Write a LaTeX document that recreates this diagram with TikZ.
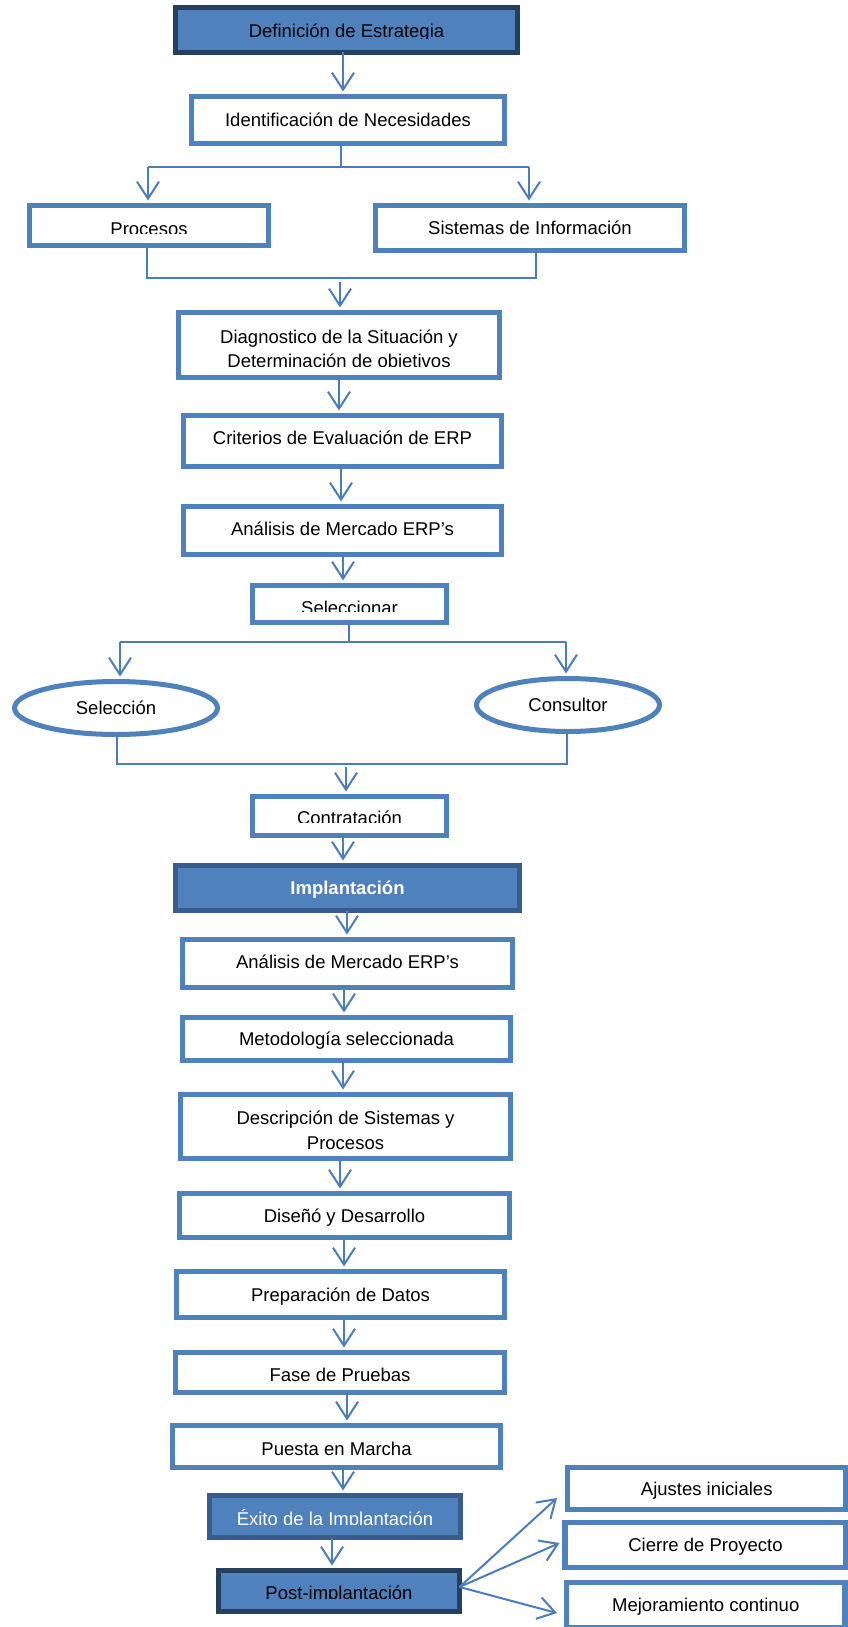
\documentclass[tikz,border=0pt]{standalone}
\usepackage{fontspec}
\setmainfont{Liberation Sans}
\usetikzlibrary{arrows.meta,shapes.geometric,calc}
\definecolor{bblue}{HTML}{4F81BD}
\definecolor{lblue}{HTML}{4A7EBB}
\definecolor{dnavy}{HTML}{253F5F}
\definecolor{mnavy}{HTML}{385D8A}
\newcommand\dfont{\fontsize{18.5}{24.5}\selectfont}
\begin{document}
\begin{tikzpicture}[x=1pt,y=-1pt,
  box/.style={draw=bblue, line width=5.5pt, fill=white, inner sep=0pt, outer sep=0pt, font=\dfont, align=center, text height=13.3pt, text depth=0pt},
  boxtwo/.style={draw=bblue, line width=5.5pt, fill=white, inner sep=0pt, outer sep=0pt, font=\dfont, align=center},
  darkbox/.style={box, fill=bblue, draw=dnavy},
  midbox/.style={box, fill=bblue, draw=mnavy},
  oval/.style={ellipse, draw=bblue, line width=5pt, fill=white, inner sep=0pt, outer sep=0pt, font=\dfont, text height=13.3pt, text depth=0pt},
  link/.style={draw=lblue, line width=2pt},
  arr/.style={link, -{Straight Barb[length=17pt,width=22pt]}, shorten >=5pt},
  maskw/.style={fill=white},
  maskb/.style={fill=bblue},
]
\useasboundingbox (0,0) rectangle (848,1627);

% ---- nodes ----
\node[darkbox, minimum width=342pt, minimum height=45pt, text height=15.3pt] (def) at (346.5,30) {Definición de Estrategia};
\node[box, minimum width=313pt, minimum height=47pt] (iden) at (348,120) {Identificación de Necesidades};
\node[box, minimum width=239pt, minimum height=40pt, text height=19pt] (proc) at (149,225.5) {Procesos};
\node[box, minimum width=309pt, minimum height=45pt] (sis) at (530,228) {Sistemas de Información};
\node[boxtwo, minimum width=321pt, minimum height=65pt] (diag) at (339,345) {\rule{0pt}{25pt}Diagnostico de la Situación y\\Determinación de objetivos};
\node[box, minimum width=318pt, minimum height=51pt, text height=7.3pt] (crit) at (342.5,441) {Criterios de Evaluación de ERP};
\node[box, minimum width=318pt, minimum height=48pt, text height=9.3pt] (ana1) at (342.5,530.5) {Análisis de Mercado ERP’s};
\node[box, minimum width=194pt, minimum height=37pt, text height=21pt] (selr) at (349.5,604) {Seleccionar};
\node[oval, minimum width=203pt, minimum height=53pt] (sel) at (116,708) {Selección};
\node[oval, minimum width=183pt, minimum height=53pt] (cons) at (568,705) {Consultor};
\node[box, minimum width=194pt, minimum height=39pt, text height=17pt] (cont) at (349.5,816) {Contratación};
\node[midbox, minimum width=344pt, minimum height=45pt, text=white, font=\dfont\bfseries] (impl) at (347.5,888) {Implantación};
\node[box, minimum width=330pt, minimum height=48pt, text height=9.3pt] (ana2) at (347.5,963.5) {Análisis de Mercado ERP’s};
\node[box, minimum width=328pt, minimum height=43pt] (met) at (346.5,1039) {Metodología seleccionada};
\node[boxtwo, minimum width=330pt, minimum height=64pt] (desc) at (345.5,1126.5) {\rule{0pt}{21pt}Descripción de Sistemas y\\Procesos};
\node[box, minimum width=330pt, minimum height=44pt] (dis) at (344.5,1215.5) {Diseñó y Desarrollo};
\node[box, minimum width=328pt, minimum height=46pt] (prep) at (340.5,1294.5) {Preparación de Datos};
\node[box, minimum width=329pt, minimum height=40pt, text height=17.3pt] (fase) at (340,1372.5) {Fase de Pruebas};
\node[box, minimum width=328pt, minimum height=42pt, text height=17.3pt] (pue) at (336.5,1446.5) {Puesta en Marcha};
\node[midbox, minimum width=251pt, minimum height=42pt, text=white, text height=18pt] (exi) at (335,1516.5) {Éxito de la Implantación};
\node[darkbox, minimum width=241pt, minimum height=41pt, text height=17.3pt] (post) at (339,1591) {Post-implantación};
\node[box, minimum width=278.5pt, minimum height=42pt] (aju) at (706.75,1488.5) {Ajustes iniciales};
\node[box, minimum width=281pt, minimum height=45pt] (cie) at (705.5,1545) {Cierre de Proyecto};
\node[box, minimum width=278.5pt, minimum height=45pt] (mej) at (705.75,1605) {Mejoramiento continuo};

% ---- clipped text bottoms ----
\fill[maskb] ($(def.south west)+(2.75,-13.5)$) rectangle ($(def.south east)+(-2.75,-2.75)$);
\fill[maskw] ($(proc.south west)+(2.75,-11.5)$) rectangle ($(proc.south east)+(-2.75,-2.75)$);
\fill[maskw] ($(diag.south west)+(2.75,-11)$) rectangle ($(diag.south east)+(-2.75,-2.75)$);
\fill[maskw] ($(selr.south west)+(2.75,-11)$) rectangle ($(selr.south east)+(-2.75,-2.75)$);
\fill[maskw] ($(cont.south west)+(2.75,-13)$) rectangle ($(cont.south east)+(-2.75,-2.75)$);
\fill[maskb] ($(exi.south west)+(2.75,-12.5)$) rectangle ($(exi.south east)+(-2.75,-2.75)$);
\fill[maskb] ($(post.south west)+(2.75,-12.5)$) rectangle ($(post.south east)+(-2.75,-2.75)$);

% ---- junction coordinates ----
\coordinate (b1) at (341,167);
\coordinate (b1l) at (148,167);
\coordinate (b1r) at (529,167);
\coordinate (m1l) at (147,278);
\coordinate (m1r) at (536,278);
\coordinate (m1) at (340,278);
\coordinate (s1) at (349,642);
\coordinate (s1l) at (120,642);
\coordinate (s1r) at (566,642);
\coordinate (m2l) at (117,764);
\coordinate (m2r) at (567,764);
\coordinate (m2) at (346,764);

% ---- connectors ----
\draw[arr] (def.south -| 343,0) -- (iden.north -| 343,0);
\draw[link] (iden.south -| b1) -- (b1);
\draw[link] (b1l) -- (b1r);
\draw[arr] (b1l) -- (proc.north -| b1l);
\draw[arr] (b1r) -- (sis.north -| b1r);
\draw[link] (proc.south -| m1l) -- (m1l) -- (m1r) -- (sis.south -| m1r);
\draw[arr, shorten <=4pt] (m1) -- (diag.north -| m1);
\draw[arr] (diag.south -| 339,0) -- (crit.north -| 339,0);
\draw[arr] (crit.south -| 341,0) -- (ana1.north -| 341,0);
\draw[arr] (ana1.south -| 343,0) -- (selr.north -| 343,0);
\draw[link] (selr.south -| s1) -- (s1);
\draw[link] (s1l) -- (s1r);
\draw[arr] (s1l) -- (sel.north -| s1l);
\draw[arr] (s1r) -- (cons.north -| s1r);
\draw[link] (sel.south -| m2l) -- (m2l) -- (m2r) -- (cons.south -| m2r);
\draw[arr, shorten <=3pt] (m2) -- (cont.north -| m2);
\draw[arr] (cont.south -| 343,0) -- (impl.north -| 343,0);
\draw[arr] (impl.south -| 347,0) -- (ana2.north -| 347,0);
\draw[arr] (ana2.south -| 344,0) -- (met.north -| 344,0);
\draw[arr] (met.south -| 343,0) -- (desc.north -| 343,0);
\draw[arr] (desc.south -| 340,0) -- (dis.north -| 340,0);
\draw[arr] (dis.south -| 344,0) -- (prep.north -| 344,0);
\draw[arr] (prep.south -| 344,0) -- (fase.north -| 344,0);
\draw[arr] (fase.south -| 347,0) -- (pue.north -| 347,0);
\draw[arr] (pue.south -| 343,0) -- (exi.north -| 343,0);
\draw[arr] (exi.south -| 332,0) -- (post.north -| 332,0);
\draw[arr, shorten >=0pt] ([yshift=4pt]post.east) -- ([xshift=-10.5pt,yshift=11.5pt]aju.south west);
\draw[arr, shorten >=0pt] ([yshift=4pt]post.east) -- ([xshift=-5.5pt,yshift=2pt]cie.west);
\draw[arr, shorten >=0pt] ([yshift=4pt]post.east) -- ([xshift=-9.5pt,yshift=-8pt]mej.west);
\end{tikzpicture}
\end{document}
